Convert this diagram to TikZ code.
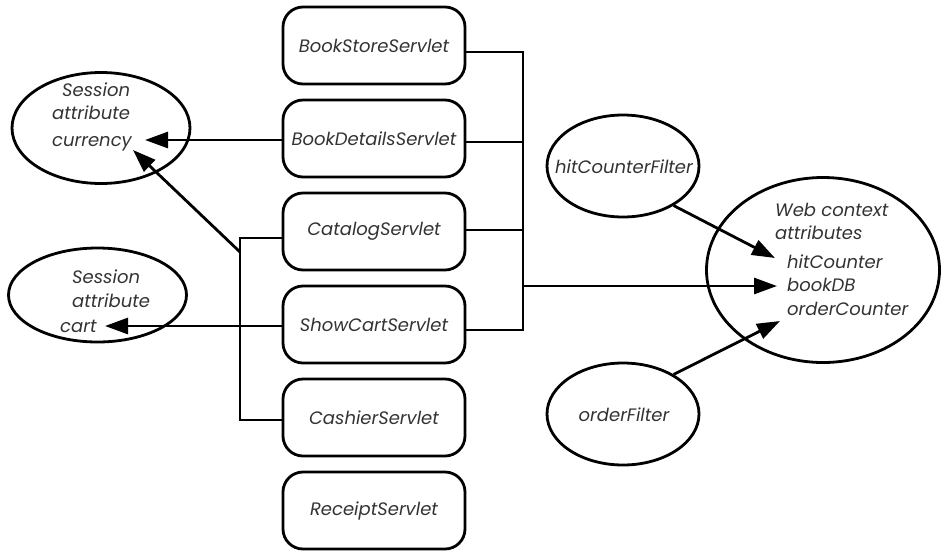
\documentclass[tikz,border=0pt]{standalone}
\usepackage{fontspec}
\setmainfont{Poppins}
\usetikzlibrary{arrows.meta,shapes.geometric}
\begin{document}
\begin{tikzpicture}[x=1pt,y=-1pt,
  lw/.style={line width=2.8pt},
  txt/.style={font=\fontsize{18}{21}\selectfont\itshape,text=black!80},
  servlet/.style={lw,draw,rounded corners=20pt,minimum width=182pt,minimum height=77pt,inner sep=0pt,txt},
  oval/.style={lw,draw,ellipse,inner sep=0pt},
  lbl/.style={inner sep=0pt,anchor=base west,txt},
  arr/.style={lw,-{Triangle[length=23pt,width=16pt]}},
  bus/.style={lw}]
\useasboundingbox (0,0) rectangle (943,550);
% servlet boxes
\node[servlet] (bs) at (374,45.5) {BookStoreServlet};
\node[servlet] (bd) at (374,138.5) {BookDetailsServlet};
\node[servlet] (cs) at (374,231.5) {CatalogServlet};
\node[servlet] (sc) at (374,324.5) {ShowCartServlet};
\node[servlet] (ca) at (374,417.5) {CashierServlet};
\node[servlet] (rs) at (374,510.5) {ReceiptServlet};
% ellipses
\node[oval,minimum width=178pt,minimum height=111pt] (cur) at (101,128) {};
\node[oval,minimum width=178pt,minimum height=94pt] (cart) at (97.5,295) {};
\node[oval,minimum width=152pt,minimum height=102pt] (hcf) at (623,166) {};
\node[oval,minimum width=152pt,minimum height=102pt] (of) at (623,414) {};
\node[oval,minimum width=233pt,minimum height=185pt] (wc) at (823,270) {};
% ellipse texts
\node[lbl] (t1) at (62,96) {Session};
\node[lbl] (t2) at (52,119) {attribute};
\node[lbl] (t3) at (52,146) {currency};
\node[lbl] (t4) at (72,283) {Session};
\node[lbl] (t5) at (72,307) {attribute};
\node[lbl] (t6) at (60,332) {cart};
\node[lbl,anchor=base] (t7) at (624,173) {hitCounterFilter};
\node[lbl,anchor=base] (t8) at (624,421) {orderFilter};
\node[lbl] (t9) at (775,216) {Web context};
\node[lbl] (t10) at (775,239) {attributes};
\node[lbl] (t11) at (787,268) {hitCounter};
\node[lbl] (t12) at (787,291) {bookDB};
\node[lbl] (t13) at (787,315) {orderCounter};
% coordinates
\coordinate (rb1) at (523,52);
\coordinate (rb2) at (523,142);
\coordinate (rb3) at (523,230);
\coordinate (rb4) at (523,330);
\coordinate (rbo) at (523,286);
\coordinate (lb1) at (240,238);
\coordinate (lb2) at (240,420);
\coordinate (lbd) at (240,252);
\coordinate (tipcur) at (145,140);
\coordinate (tipdiag) at (133,150);
\coordinate (tipcart) at (105,326);
\coordinate (tipwc) at (777,286);
\coordinate (tiphc) at (775,258);
\coordinate (tipoc) at (780,321);
% right bus
\draw[bus] (bs.east |- rb1) -- (rb1) -- (rb4) -- (sc.east |- rb4);
\draw[bus] (bd.east |- rb2) -- (rb2);
\draw[bus] (cs.east |- rb3) -- (rb3);
\draw[arr] (rbo) -- (tipwc);
% left bus
\draw[bus] (cs.west |- lb1) -- (lb1) -- (lb2) -- (ca.west |- lb2);
\draw[arr] (lbd) -- (tipdiag);
\draw[arr] (bd.west |- tipcur) -- (tipcur);
\draw[arr] (sc.west |- tipcart) -- (tipcart);
% filters
\draw[arr] (hcf.-38) -- (tiphc);
\draw[arr] (of.38) -- (tipoc);
\end{tikzpicture}
\end{document}
